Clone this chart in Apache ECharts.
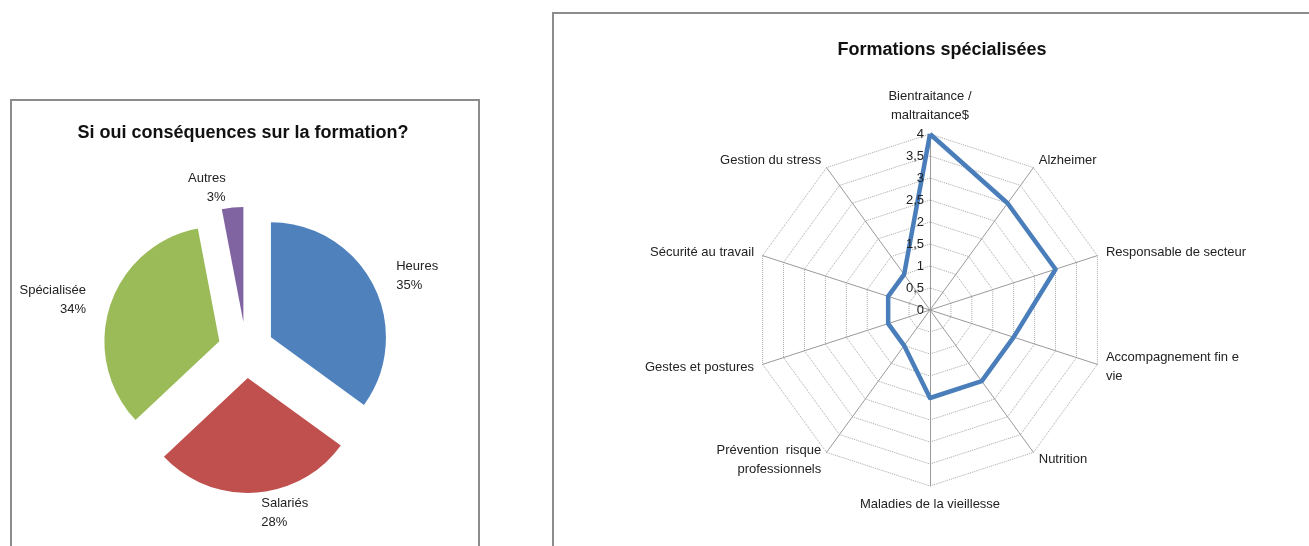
<!DOCTYPE html>
<html>
<head>
<meta charset="utf-8">
<script src="https://cdn.jsdelivr.net/npm/echarts@6/dist/echarts.min.js"></script>
<style>
  html, body { margin: 0; padding: 0; background: #fff; }
  #chart { width: 1309px; height: 546px; }
</style>
</head>
<body>
<div id="chart"></div>
<script>
// pie: "Si oui conséquences sur la formation?"
const pieTitle = 'Si oui conséquences sur la formation?';
const pieCategories = ['Heures', 'Salariés', 'Spécialisée', 'Autres'];
const pieValues = [35, 28, 34, 3];
const pieColors = ['#4f81bd', '#c0504d', '#9bbb59', '#8064a2'];

// radar: "Formations spécialisées" (listed clockwise from the top)
const radarTitle = 'Formations spécialisées';
const radarCategories = [
  'Bientraitance /\nmaltraitance$',
  'Alzheimer',
  'Responsable de secteur',
  'Accompagnement fin e\nvie',
  'Nutrition',
  'Maladies de la vieillesse',
  'Prévention  risque\nprofessionnels',
  'Gestes et postures',
  'Sécurité au travail',
  'Gestion du stress'
];
const radarValues = [4, 3, 3, 2, 2, 2, 1, 1, 1, 1];
const radarMax = 4;

(function () {
  const chart = echarts.init(document.getElementById('chart'));
  const font = "'Liberation Sans', Arial, sans-serif";

  const formatComma = v => String(v).replace('.', ',');

  // echarts lays radar indicators out counter-clockwise, so walk the list backwards after the first
  const n = radarCategories.length;
  const order = radarCategories.map((_, i) => (n - i) % n);

  const indicators = order.map(k => ({ name: radarCategories[k], min: 0, max: radarMax }));

  // second radar only carries the tick labels of the top axis, drawn above the line
  const labelIndicators = order.map((k, i) => {
    const ind = { name: radarCategories[k], min: 0, max: radarMax };
    if (i === 0) {
      ind.axisLabel = {
        show: true,
        color: '#222',
        fontSize: 13,
        fontFamily: font,
        margin: 6,
        formatter: formatComma
      };
    }
    return ind;
  });

  const radarBase = {
    center: [930, 310],
    radius: 176,
    shape: 'polygon',
    splitNumber: 8,
    nameGap: 9
  };

  chart.setOption({
    backgroundColor: '#fff',
    textStyle: { fontFamily: font },
    graphic: [
      {
        type: 'rect',
        shape: { x: 11, y: 100, width: 468, height: 470 },
        style: { fill: 'none', stroke: '#8c8c8c', lineWidth: 2 },
        silent: true
      },
      {
        type: 'rect',
        shape: { x: 553, y: 13, width: 780, height: 560 },
        style: { fill: 'none', stroke: '#8c8c8c', lineWidth: 2 },
        silent: true
      }
    ],
    title: [
      {
        text: pieTitle,
        left: 238,
        top: 119,
        textAlign: 'center',
        textStyle: { fontSize: 18, fontWeight: 'bold', color: '#111', fontFamily: font }
      },
      {
        text: radarTitle,
        left: 937,
        top: 36,
        textAlign: 'center',
        textStyle: { fontSize: 18, fontWeight: 'bold', color: '#111', fontFamily: font }
      }
    ],
    radar: [
      Object.assign({}, radarBase, {
        axisName: { color: '#222', fontSize: 13, lineHeight: 19, fontFamily: font },
        axisLine: { lineStyle: { color: '#9a9a9a', width: 1 } },
        splitLine: { lineStyle: { color: '#a8a8a8', width: 1, type: 'dotted' } },
        splitArea: { show: false },
        axisLabel: { show: false },
        indicator: indicators
      }),
      Object.assign({}, radarBase, {
        zlevel: 1,
        z: 10,
        axisName: { show: false },
        axisLine: { show: false },
        splitLine: { show: false },
        splitArea: { show: false },
        axisTick: { show: false },
        axisLabel: { show: false },
        indicator: labelIndicators
      })
    ],
    series: [
      {
        type: 'pie',
        center: [246, 350],
        radius: 115,
        startAngle: 90,
        clockwise: true,
        selectedMode: 'multiple',
        selectedOffset: 28,
        percentPrecision: 0,
        color: pieColors,
        label: {
          show: true,
          position: 'outside',
          formatter: '{b}\n{d}%',
          color: '#222',
          fontSize: 13,
          lineHeight: 19,
          fontFamily: font
        },
        labelLine: { show: false, length: 20, length2: 0 },
        emphasis: { scale: false },
        data: pieCategories.map((name, i) => ({
          name: name,
          value: pieValues[i],
          selected: true
        }))
      },
      {
        type: 'radar',
        radarIndex: 0,
        z: 1,
        symbol: 'none',
        lineStyle: { color: '#4a7ebb', width: 4.5 },
        data: [{ value: order.map(k => radarValues[k]), name: radarTitle }]
      }
    ]
  });

  window.addEventListener('resize', () => chart.resize());
})();
</script>
</body>
</html>
